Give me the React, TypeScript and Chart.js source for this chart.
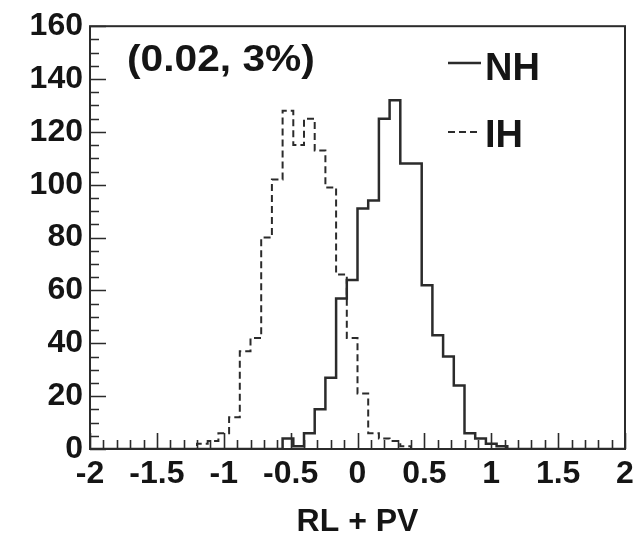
import React, { useEffect, useRef } from 'react';
import { Chart, registerables } from 'chart.js';

Chart.register(...registerables);

// Histogram binning (bin edges start at -2, width 0.08, 50 bins)
const BIN_START = -2;
const BIN_WIDTH = 0.08;

const NH_COUNTS = [
  0, 0, 0, 0, 0, 0, 0, 0, 0, 0,
  0, 0, 0, 0, 0, 0, 0, 0, 4, 1,
  6, 15, 27, 57, 64, 91, 94, 125, 132, 108,
  108, 62, 43, 35, 24, 6, 4, 2, 1, 0,
  0, 0, 0, 0, 0, 0, 0, 0, 0, 0,
];

const IH_COUNTS = [
  0, 0, 0, 0, 0, 0, 0, 0, 0, 0,
  2, 3, 6, 12, 37, 42, 80, 102, 128, 115,
  125, 113, 99, 66, 42, 21, 6, 4, 3, 1,
  0, 0, 0, 0, 0, 0, 0, 0, 0, 0,
  0, 0, 0, 0, 0, 0, 0, 0, 0, 0,
];

const X_TICKS = [-2, -1.5, -1, -0.5, 0, 0.5, 1, 1.5, 2];
const Y_TICKS = [0, 20, 40, 60, 80, 100, 120, 140, 160];
const X_TITLE = 'RL + PV';
const ANNOTATION = '(0.02, 3%)';
const SERIES_NAMES = ['NH', 'IH'];

const FONT_FAMILY = "'Liberation Sans', Arial, Helvetica, sans-serif";
const INK = '#151515';
const LINE = '#2b2b2b';
const DASH = [7, 4];

function toSteps(counts: number[]) {
  const pts = counts.map((c, i) => ({ x: BIN_START + i * BIN_WIDTH, y: c }));
  pts.push({ x: BIN_START + counts.length * BIN_WIDTH, y: counts[counts.length - 1] });
  return pts;
}

const overlayPlugin = {
  id: 'overlay',
  beforeDatasetsDraw(chart: any) {
    const { ctx, chartArea, scales } = chart;
    const xs = scales.x;
    const ys = scales.y;
    ctx.save();
    ctx.strokeStyle = LINE;
    ctx.lineWidth = 1.6;
    ctx.beginPath();
    for (let i = 0; i <= 40; i++) {
      const v = -2 + i * 0.1;
      const px = Math.round(xs.getPixelForValue(v)) + 0.5;
      const len = i % 5 === 0 ? 16 : 9;
      ctx.moveTo(px, chartArea.bottom);
      ctx.lineTo(px, chartArea.bottom - len);
    }
    for (let i = 0; i <= 32; i++) {
      const v = i * 5;
      const py = Math.round(ys.getPixelForValue(v)) + 0.5;
      const len = i % 4 === 0 ? 16 : 9;
      ctx.moveTo(chartArea.left, py);
      ctx.lineTo(chartArea.left + len, py);
    }
    ctx.stroke();
    ctx.restore();
  },
  afterDatasetsDraw(chart: any) {
    const { ctx, chartArea } = chart;
    ctx.save();
    // frame
    ctx.strokeStyle = LINE;
    ctx.lineWidth = 2;
    ctx.setLineDash([]);
    ctx.strokeRect(chartArea.left, chartArea.top, chartArea.right - chartArea.left, chartArea.bottom - chartArea.top);

    // annotation
    ctx.fillStyle = INK;
    ctx.textBaseline = 'alphabetic';
    ctx.textAlign = 'left';
    ctx.font = `bold 37px ${FONT_FAMILY}`;
    ctx.save();
    ctx.translate(127, 71);
    ctx.scale(1.1, 1);
    ctx.fillText(ANNOTATION, 0, 0);
    ctx.restore();

    // legend
    ctx.font = `bold 38px ${FONT_FAMILY}`;
    ctx.lineWidth = 2.5;
    ctx.beginPath();
    ctx.moveTo(448, 63);
    ctx.lineTo(481, 63);
    ctx.stroke();
    ctx.fillText(SERIES_NAMES[0], 485, 80);

    ctx.lineWidth = 2;
    ctx.setLineDash(DASH);
    ctx.beginPath();
    ctx.moveTo(448, 132);
    ctx.lineTo(481, 132);
    ctx.stroke();
    ctx.setLineDash([]);
    ctx.fillText(SERIES_NAMES[1], 485, 147);
    ctx.restore();
  },
};

export default function App() {
  const canvasRef = useRef<HTMLCanvasElement | null>(null);

  useEffect(() => {
    const canvas = canvasRef.current;
    if (!canvas) return;
    const tickFont = { family: FONT_FAMILY, size: 32, weight: 'bold' as const };
    const chart = new Chart(canvas, {
      type: 'line',
      data: {
        datasets: [
          {
            label: SERIES_NAMES[0],
            data: toSteps(NH_COUNTS),
            stepped: true,
            borderColor: LINE,
            borderWidth: 2.5,
            pointRadius: 0,
            fill: false,
          },
          {
            label: SERIES_NAMES[1],
            data: toSteps(IH_COUNTS),
            stepped: true,
            borderColor: LINE,
            borderWidth: 2,
            borderDash: DASH,
            pointRadius: 0,
            fill: false,
          },
        ],
      },
      options: {
        responsive: false,
        animation: false,
        parsing: true,
        layout: { padding: { top: 20, right: 19, left: 0, bottom: 0 } },
        plugins: {
          legend: { display: false },
          tooltip: { enabled: false },
          title: { display: false },
        },
        scales: {
          x: {
            type: 'linear',
            min: -2,
            max: 2,
            grid: { display: false, drawTicks: false },
            border: { display: false },
            afterBuildTicks: (scale: any) => {
              scale.ticks = X_TICKS.map((v) => ({ value: v }));
            },
            afterFit: (scale: any) => {
              scale.height = 92;
            },
            ticks: {
              autoSkip: false,
              maxRotation: 0,
              padding: 6,
              color: INK,
              font: tickFont,
              callback: (v: any) => String(v),
            },
            title: {
              display: true,
              text: X_TITLE,
              color: INK,
              font: { family: FONT_FAMILY, size: 32, weight: 'bold' },
              padding: { top: 0, bottom: 0 },
            },
          },
          y: {
            type: 'linear',
            min: 0,
            max: 160,
            grid: { display: false, drawTicks: false },
            border: { display: false },
            afterBuildTicks: (scale: any) => {
              scale.ticks = Y_TICKS.map((v) => ({ value: v }));
            },
            afterFit: (scale: any) => {
              scale.width = 90;
            },
            ticks: {
              autoSkip: false,
              padding: 7,
              color: INK,
              font: tickFont,
              callback: (v: any) => String(v),
            },
          },
        },
      },
      plugins: [overlayPlugin],
    });
    return () => chart.destroy();
  }, []);

  return (
    <div style={{ position: 'fixed', left: 0, top: 0, width: 644, height: 541, background: '#fff' }}>
      <canvas ref={canvasRef} width={644} height={541} style={{ display: 'block' }} />
    </div>
  );
}
